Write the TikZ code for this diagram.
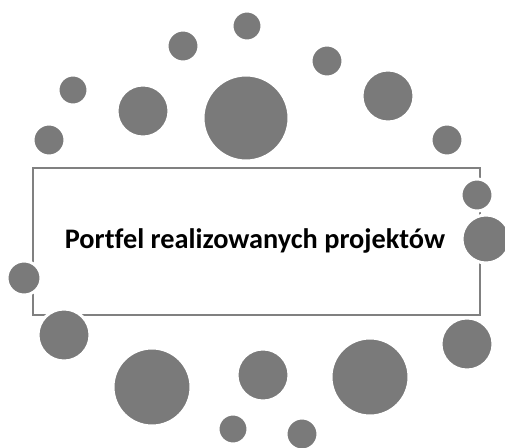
\documentclass[tikz,border=0pt]{standalone}
\usepackage{fontspec}
\setmainfont[Ligatures=NoCommon]{Carlito}
\definecolor{dotgray}{HTML}{7A7A7A}
\definecolor{framegray}{HTML}{808080}
\begin{document}
\begin{tikzpicture}[x=1pt,y=-1pt,
  dot/.style={circle,fill=dotgray,draw=white,line width=3pt,inner sep=0pt,minimum size=#1},
  frame/.style={draw=framegray,line width=2pt}]
\useasboundingbox (0,0) rectangle (505,447);
\node[frame,minimum width=447pt,minimum height=147pt,anchor=north west] (box) at (32,167) {};
\node[font=\bfseries\fontsize{28.3}{31}\selectfont] (title) at (255,241) {Portfel realizowanych projektów};
% top arc
\node[dot=30pt] (t1) at (247,26) {};
\node[dot=32pt] (t2) at (183,46) {};
\node[dot=30pt] (t3) at (73,90) {};
\node[dot=32pt] (t4) at (49,140) {};
\node[dot=52pt] (t5) at (143,111) {};
\node[dot=86pt] (t6) at (246,118) {};
\node[dot=32pt] (t7) at (327,61) {};
\node[dot=52pt] (t8) at (388,96) {};
\node[dot=32pt] (t9) at (447,140) {};
% sides
\node[dot=32pt] (r1) at (477,195) {};
\node[dot=48pt] (r2) at (486,239) {};
\node[dot=34pt] (l1) at (24,278) {};
% bottom arc
\node[dot=52pt] (b1) at (64,335) {};
\node[dot=78pt] (b2) at (152,387) {};
\node[dot=52pt] (b3) at (263,375) {};
\node[dot=78pt] (b4) at (370,377) {};
\node[dot=52pt] (b5) at (467,344) {};
\node[dot=30pt] (b6) at (233,429) {};
\node[dot=32pt] (b7) at (302,434) {};
\end{tikzpicture}
\end{document}
